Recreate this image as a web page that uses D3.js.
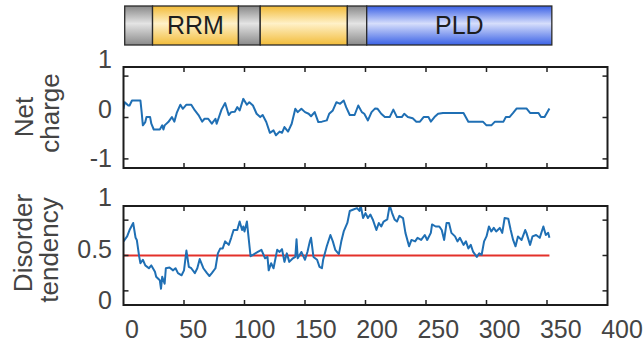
<!DOCTYPE html>
<html>
<head>
<meta charset="utf-8">
<script src="https://cdn.jsdelivr.net/npm/d3@7"></script>
<style>
  body { margin: 0; background: #fff; }
  svg text { font-family: "Liberation Sans", Arial, sans-serif; }
</style>
</head>
<body>
<div id="chart"></div>
<script>
// residue positions and values
var chargePos = [0,1,4,5,7,14,15,16,18,19,22,23,25,30,32,33,34,37,40,42,44,47,49,52,56,59,62,65,67,70,73,76,77,81,84,87,89,92,94,96,99,102,104,107,110,113,115,118,121,124,126,129,131,133,136,139,142,144,147,150,153,155,158,161,164,168,170,173,176,179,182,184,187,191,194,197,199,202,205,208,210,213,216,220,223,226,230,232,235,239,242,245,248,252,254,257,260,264,281,285,297,300,304,307,314,316,319,322,325,333,336,343,345,348,352];
var chargeVal = [0.21,0.37,0.29,0.29,0.41,0.41,0.13,-0.19,-0.11,0.01,0.01,-0.15,-0.29,-0.29,-0.19,-0.29,-0.19,-0.11,0.01,-0.10,0.11,0.31,0.21,0.31,0.31,0.17,0.06,-0.10,-0.03,-0.03,-0.15,-0.03,-0.15,0.19,0.35,0.06,0.13,0.14,0.25,0.17,0.45,0.31,0.37,0.29,0.09,0.01,0.06,-0.11,-0.37,-0.31,-0.43,-0.34,-0.37,-0.23,-0.34,-0.15,0.21,0.13,0.21,0.13,0.09,0.03,0.13,-0.11,-0.10,-0.07,0.09,0.17,0.37,0.33,0.41,0.25,0.06,0.06,0.29,0.13,0.09,-0.07,0.13,0.22,0.21,0.09,0.01,0.01,0.19,0.01,0.01,0.09,0.01,-0.02,-0.10,-0.10,0.01,0.01,-0.10,0.01,0.09,0.11,0.11,-0.10,-0.10,-0.19,-0.19,-0.10,-0.10,0.01,0.01,0.11,0.22,0.22,0.11,0.11,0.01,0.01,0.22];

var disorderPos = [0,3,5,8,10,11,13,14,16,18,21,23,26,27,30,31,32,34,35,38,41,43,45,48,50,52,54,56,59,61,63,66,69,71,73,76,78,80,82,84,87,89,91,94,96,98,99,100,102,105,107,111,114,117,119,120,122,124,127,129,131,133,135,137,140,142,143,144,147,150,152,154,155,157,160,162,164,165,168,171,173,175,178,180,182,185,187,190,193,195,196,198,200,202,204,206,209,211,213,215,218,220,222,224,226,228,231,233,236,238,241,243,246,249,251,254,255,258,261,263,265,267,269,271,274,276,278,281,283,285,287,289,292,294,296,298,300,302,304,306,308,311,313,315,318,320,322,324,326,329,332,333,336,338,341,344,347,349,351,352];
var disorderVal = [0.70,0.77,0.86,0.96,0.75,0.72,0.48,0.39,0.44,0.36,0.32,0.36,0.27,0.20,0.15,0.03,0.20,0.10,0.32,0.33,0.29,0.32,0.25,0.22,0.29,0.57,0.34,0.32,0.25,0.32,0.45,0.32,0.25,0.21,0.25,0.32,0.53,0.60,0.60,0.70,0.65,0.75,0.86,0.86,0.98,0.86,0.91,0.84,0.98,0.49,0.51,0.55,0.58,0.46,0.48,0.29,0.39,0.32,0.58,0.55,0.59,0.41,0.53,0.41,0.46,0.48,0.73,0.46,0.55,0.44,0.55,0.70,0.75,0.48,0.44,0.34,0.32,0.44,0.63,0.79,0.70,0.58,0.52,0.70,0.84,0.96,1.13,1.15,1.17,1.13,1.21,1.03,1.10,1.03,1.08,1.01,0.86,0.96,0.91,0.98,1.01,1.21,1.10,1.01,0.98,1.06,1.03,0.82,0.63,0.72,0.70,0.75,0.72,0.79,0.72,0.82,0.94,0.91,0.91,0.86,0.72,0.96,0.96,0.82,0.77,0.70,0.75,0.65,0.70,0.60,0.65,0.55,0.48,0.53,0.51,0.70,0.77,0.91,0.84,0.89,0.84,0.89,0.82,1.03,1.02,0.86,0.72,0.63,0.77,0.72,0.86,0.82,0.65,0.77,0.79,0.75,0.91,0.79,0.82,0.75];
var disorderThreshold = 0.5;

// domain architecture
var domainStart = [1, 24, 95, 113, 185, 201];
var domainEnd   = [24, 95, 113, 185, 201, 354];
var domainKind  = ["linker", "rrm", "linker", "rrm", "linker", "pld"];
var domainLabel = ["", "RRM", "", "", "", "PLD"];

var xTicks = [0, 50, 100, 150, 200, 250, 300, 350, 400];
var chargeTicks = [-1, 0, 1];
var disorderTicks = [0, 0.5, 1];

var width = 644, height = 343;
var textColor = "#444";
var lineColor = "#1f6fb4";

var svg = d3.select("#chart").append("svg")
    .attr("width", width)
    .attr("height", height);

var x = d3.scaleLinear().domain([0, 400]).range([123.5, 607.5]);
// the tick labels in the figure sit a little off the ticks
var xLabel = d3.scaleLinear().domain([0, 400]).range([132, 622]);

// gradients for the domain bar
var defs = svg.append("defs");
var grads = {
    linker: ["#888888", "#e4e4e4", "#8a8a8a"],
    rrm: ["#f2bb38", "#fff1c8", "#f2bc3a"],
    pld: ["#3a60e6", "#d6defb", "#3b62e6"]
};
Object.keys(grads).forEach(function (k) {
    var g = defs.append("linearGradient")
        .attr("id", "grad-" + k)
        .attr("x1", 0).attr("y1", 0).attr("x2", 0).attr("y2", 1);
    g.append("stop").attr("offset", "0%").attr("stop-color", grads[k][0]);
    g.append("stop").attr("offset", "45%").attr("stop-color", grads[k][1]);
    g.append("stop").attr("offset", "100%").attr("stop-color", grads[k][2]);
});

var domains = domainStart.map(function (s, i) {
    return {start: s, end: domainEnd[i], kind: domainKind[i], label: domainLabel[i]};
});

var bar = svg.append("g").attr("class", "domains");
bar.selectAll("rect")
    .data(domains)
    .enter().append("rect")
    .attr("x", function (d) { return x(d.start); })
    .attr("y", 6)
    .attr("width", function (d) { return x(d.end) - x(d.start); })
    .attr("height", 39)
    .attr("fill", function (d) { return "url(#grad-" + d.kind + ")"; })
    .attr("stroke", "#2a2a2a")
    .attr("stroke-width", 1.3);

bar.selectAll("text")
    .data(domains.filter(function (d) { return d.label; }))
    .enter().append("text")
    .attr("x", function (d) { return (x(d.start) + x(d.end)) / 2; })
    .attr("y", 34)
    .attr("text-anchor", "middle")
    .attr("font-size", 25)
    .attr("fill", "#1e1e1e")
    .text(function (d) { return d.label; });

// one boxed panel, matlab style ticks on all four sides
function panel(opts) {
    var y = d3.scaleLinear().domain(opts.domain).range([opts.bottom, opts.top]);
    var labelY = d3.scaleLinear().domain(opts.labelDomain).range(opts.labelRange);
    var g = svg.append("g");
    var tl = 5;

    var clipId = "clip-" + opts.name;
    defs.append("clipPath").attr("id", clipId)
        .append("rect")
        .attr("x", x(0)).attr("y", opts.top)
        .attr("width", x(400) - x(0)).attr("height", opts.bottom - opts.top);

    var pts = opts.pos.map(function (p, i) { return [p, opts.val[i]]; });
    var line = d3.line()
        .x(function (d) { return x(d[0]); })
        .y(function (d) { return y(d[1]); });

    var plot = g.append("g").attr("clip-path", "url(#" + clipId + ")");

    if (opts.threshold != null) {
        plot.append("line")
            .attr("x1", x(opts.pos[0])).attr("x2", x(opts.pos[opts.pos.length - 1]))
            .attr("y1", y(opts.threshold)).attr("y2", y(opts.threshold))
            .attr("stroke", "#e3312a")
            .attr("stroke-width", 2);
    }

    plot.append("path")
        .datum(pts)
        .attr("d", line)
        .attr("fill", "none")
        .attr("stroke", lineColor)
        .attr("stroke-width", 2)
        .attr("stroke-linejoin", "round");

    // x ticks, top and bottom, inward
    var xt = xTicks.filter(function (t) { return t > 0 && t < 400; });
    g.selectAll(".xtb").data(xt).enter().append("line")
        .attr("x1", function (d) { return x(d); }).attr("x2", function (d) { return x(d); })
        .attr("y1", opts.bottom).attr("y2", opts.bottom - tl)
        .attr("stroke", "#222").attr("stroke-width", 1.5);
    g.selectAll(".xtt").data(xt).enter().append("line")
        .attr("x1", function (d) { return x(d); }).attr("x2", function (d) { return x(d); })
        .attr("y1", opts.top).attr("y2", opts.top + tl)
        .attr("stroke", "#222").attr("stroke-width", 1.5);

    // y ticks left and right
    g.selectAll(".ytl").data(opts.ticks).enter().append("line")
        .attr("x1", x(0)).attr("x2", x(0) + tl)
        .attr("y1", function (d) { return y(d); }).attr("y2", function (d) { return y(d); })
        .attr("stroke", "#222").attr("stroke-width", 1.5);
    g.selectAll(".ytr").data(opts.ticks).enter().append("line")
        .attr("x1", x(400)).attr("x2", x(400) - tl)
        .attr("y1", function (d) { return y(d); }).attr("y2", function (d) { return y(d); })
        .attr("stroke", "#222").attr("stroke-width", 1.5);

    g.append("rect")
        .attr("x", x(0)).attr("y", opts.top)
        .attr("width", x(400) - x(0)).attr("height", opts.bottom - opts.top)
        .attr("fill", "none")
        .attr("stroke", "#1c1c1c")
        .attr("stroke-width", 2);

    g.selectAll(".ylab").data(opts.ticks).enter().append("text")
        .attr("x", 112)
        .attr("y", function (d) { return labelY(d); })
        .attr("dy", "0.36em")
        .attr("text-anchor", "end")
        .attr("font-size", 25)
        .attr("fill", textColor)
        .text(function (d) { return d; });

    opts.title.forEach(function (t, i) {
        g.append("text")
            .attr("transform", "translate(" + opts.titleX[i] + "," + opts.titleY[i] + ") rotate(-90)")
            .attr("text-anchor", "middle")
            .attr("font-size", 26)
            .attr("fill", textColor)
            .text(t);
    });
    return g;
}

panel({
    name: "charge",
    top: 67, bottom: 168,
    domain: [-1.22, 1.22],
    labelDomain: [-1, 1], labelRange: [158, 59],
    ticks: chargeTicks,
    pos: chargePos, val: chargeVal,
    title: ["Net", "charge"],
    titleX: [33, 59], titleY: [117, 113]
});

panel({
    name: "disorder",
    top: 206, bottom: 305,
    domain: [-0.2, 1.2],
    labelDomain: [0, 1], labelRange: [300, 197],
    ticks: disorderTicks,
    pos: disorderPos, val: disorderVal,
    threshold: disorderThreshold,
    title: ["Disorder", "tendency"],
    titleX: [32, 58], titleY: [243, 250]
});

svg.append("g").selectAll("text")
    .data(xTicks)
    .enter().append("text")
    .attr("x", function (d) { return xLabel(d); })
    .attr("y", 338)
    .attr("text-anchor", "middle")
    .attr("font-size", 25)
    .attr("fill", textColor)
    .text(function (d) { return d; });
</script>
</body>
</html>
